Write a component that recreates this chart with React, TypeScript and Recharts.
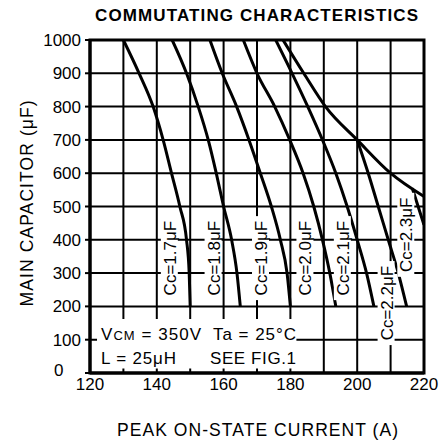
import React from 'react';
import { LineChart, Line, XAxis, YAxis, CartesianGrid, ReferenceArea, ReferenceDot } from 'recharts';

const FONT = "'Liberation Sans', Arial, Helvetica, sans-serif";

const xTicks = [120, 130, 140, 150, 160, 170, 180, 190, 200, 210, 220];
const yTicks = [0, 100, 200, 300, 400, 500, 600, 700, 800, 900, 1000];

// [peak on-state current (A), main capacitor (uF)]
const cc17 = [[130, 1000], [134.7, 900], [138.9, 800], [141.9, 700], [144.4, 600], [146.9, 500], [148.9, 400], [149.7, 300], [150, 200]];
const cc18 = [[144.6, 1000], [148.9, 900], [152.4, 800], [155.4, 700], [157.8, 600], [160, 500], [162.4, 400], [164, 300], [165, 200]];
const cc19 = [[155.9, 1000], [159.6, 900], [163.9, 800], [167.6, 700], [171, 600], [174.3, 500], [177, 400], [179, 300], [180, 200]];
const cc20 = [[165.9, 1000], [170, 900], [175.3, 800], [179.8, 700], [183.8, 600], [187, 500], [189.6, 400], [191.8, 300], [193.6, 200]];
const cc21 = [[175.6, 1000], [180.5, 900], [185.2, 800], [189.6, 700], [193.6, 600], [197, 500], [200, 400], [202.8, 300], [205, 200]];
const limitLine = [[177.8, 1000], [184, 900], [190.5, 800], [200, 700], [210, 600], [220, 530]];
const cc22 = [[200, 700], [203.3, 600], [206.3, 500], [209.3, 400], [212.3, 300], [214.8, 200]];
const cc23 = [[216.5, 555], [219.2, 470], [220, 445]];

const curves = [cc17, cc18, cc19, cc20, cc21, limitLine, cc22, cc23];

const curveLabels = [
  { text: 'Cc=1.7μF', i: 143.9, c: 345 },
  { text: 'Cc=1.8μF', i: 157, c: 345 },
  { text: 'Cc=1.9μF', i: 171.2, c: 345 },
  { text: 'Cc=2.0μF', i: 184.5, c: 345 },
  { text: 'Cc=2.1μF', i: 195.7, c: 345 },
  { text: 'Cc=2.2μF', i: 208.8, c: 210 },
  { text: 'Cc=2.3μF', i: 214.7, c: 415 },
];

const toPoints = (pts: number[][]) => pts.map(([i, c]) => ({ i, c }));

const CurveLabel = ({ viewBox, text }: any) => {
  const cx = viewBox.x + viewBox.width / 2;
  const cy = viewBox.y + viewBox.height / 2;
  return (
    <g transform={`translate(${cx},${cy}) rotate(-90)`}>
      <rect x={-42} y={-9} width={84} height={17} fill="#fff" />
      <text x={0} y={6} textAnchor="middle" fontSize={17} fontFamily={FONT} fill="#000">
        {text}
      </text>
    </g>
  );
};

const BoxText = ({ viewBox }: any) => {
  const { x, y } = viewBox;
  return (
    <g fontSize={17} fontFamily={FONT} fill="#000">
      <text x={x + 4} y={y + 21} textLength={100} lengthAdjust="spacing">
        V<tspan fontSize={13}>CM</tspan> = 350V
      </text>
      <text x={x + 116} y={y + 21} textLength={83} lengthAdjust="spacing">Ta = 25°C</text>
      <text x={x + 4} y={y + 44.5} textLength={75} lengthAdjust="spacing">L = 25μH</text>
      <text x={x + 113} y={y + 44.5} textLength={86} lengthAdjust="spacing">SEE FIG.1</text>
    </g>
  );
};

// the "0" label sits left-aligned under the other labels, clear of the "120"
const YTick = ({ x, y, payload }: any) => {
  const zero = payload.value === 0;
  return (
    <text
      x={zero ? x - 27 : x}
      y={zero ? y - 3 : y}
      dy="0.355em"
      textAnchor={zero ? 'start' : 'end'}
      fontSize={17}
      fontFamily={FONT}
      fill="#000"
    >
      {payload.value}
    </text>
  );
};

export default function App() {
  return (
    <div style={{ position: 'absolute', left: 0, top: 0, width: 442, height: 446, background: '#fff' }}>
      <LineChart width={442} height={446} margin={{ top: 40, right: 18, bottom: 43, left: 30 }}>
        <CartesianGrid stroke="#000" strokeWidth={2} />
        <XAxis
          type="number"
          dataKey="i"
          domain={[120, 220]}
          ticks={xTicks}
          tickFormatter={(v: number) => (v % 20 === 0 ? String(v) : '')}
          allowDataOverflow
          height={30}
          tickLine={false}
          tickSize={0}
          tickMargin={5}
          axisLine={{ stroke: '#000', strokeWidth: 3 }}
          tick={{ fill: '#000', fontSize: 17, fontFamily: FONT }}
        />
        <YAxis
          type="number"
          dataKey="c"
          domain={[0, 1000]}
          ticks={yTicks}
          allowDataOverflow
          width={60}
          tickSize={5}
          tickMargin={4}
          tickLine={{ stroke: '#000', strokeWidth: 2 }}
          axisLine={{ stroke: '#000', strokeWidth: 3 }}
          tick={<YTick />}
        />
        <ReferenceArea
          x1={122.1}
          x2={181.8}
          y1={13.5}
          y2={162}
          fill="#fff"
          fillOpacity={1}
          stroke="none"
          label={(p: any) => <BoxText viewBox={p.viewBox} />}
        />
        {curves.map((pts, k) => (
          <Line
            key={k}
            data={toPoints(pts)}
            dataKey="c"
            type="monotone"
            dot={false}
            activeDot={false}
            stroke="#000"
            strokeWidth={3}
            isAnimationActive={false}
          />
        ))}
        {curveLabels.map((l) => (
          <ReferenceDot
            key={l.text}
            x={l.i}
            y={l.c}
            r={1}
            fill="none"
            stroke="none"
            label={(p: any) => <CurveLabel viewBox={p.viewBox} text={l.text} />}
          />
        ))}
        <ReferenceArea x1={120} x2={220} y1={0} y2={1000} fill="none" stroke="#000" strokeWidth={3} />
      </LineChart>
      <svg width={442} height={446} style={{ position: 'absolute', left: 0, top: 0, pointerEvents: 'none' }}>
        <text x={256.5} y={20.7} textAnchor="middle" fontSize={17} fontWeight="bold" fontFamily={FONT} textLength={323} lengthAdjust="spacing">
          COMMUTATING CHARACTERISTICS
        </text>
        <text x={257.5} y={436} textAnchor="middle" fontSize={17.5} fontFamily={FONT} textLength={281} lengthAdjust="spacing">
          PEAK ON-STATE CURRENT  (A)
        </text>
        <text transform="translate(33,203.4) rotate(-90)" textAnchor="middle" fontSize={17.5} fontFamily={FONT} textLength={206} lengthAdjust="spacing">
          MAIN CAPACITOR  (μF)
        </text>
      </svg>
    </div>
  );
}
